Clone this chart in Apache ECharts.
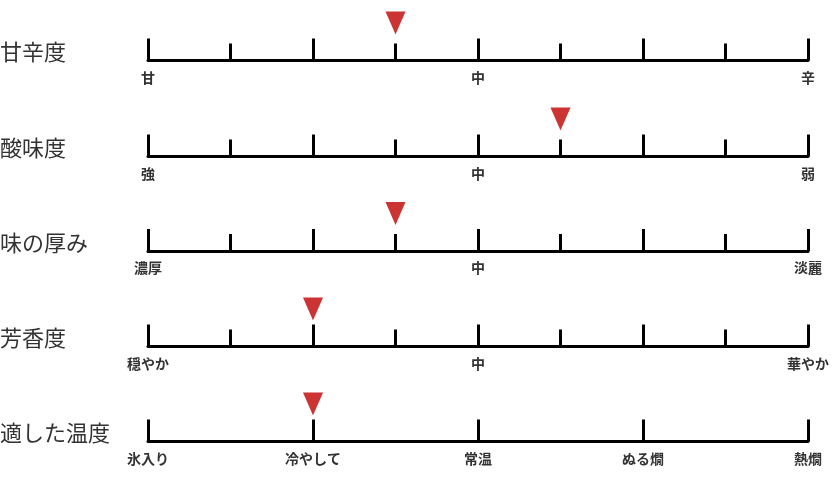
<!DOCTYPE html>
<html>
<head>
<meta charset="utf-8">
<script src="https://cdn.jsdelivr.net/npm/echarts@6/dist/echarts.min.js"></script>
<style>
html,body{margin:0;padding:0;background:#fff;}
#chart{width:832px;height:495px;}
</style>
</head>
<body>
<div id="chart"></div>
<script>
// ---- data ----
const rowTitles = ['甘辛度', '酸味度', '味の厚み', '芳香度', '適した温度'];
const scaleLabels = [
  ['甘', '中', '辛'],
  ['強', '中', '弱'],
  ['濃厚', '中', '淡麗'],
  ['穏やか', '中', '華やか'],
  ['氷入り', '冷やして', '常温', 'ぬる燗', '熱燗']
];
const scaleMax = [8, 8, 8, 8, 4];
const values = [3, 5, 3, 2, 1];

// ---- layout ----
const lineY = [60.5, 156.5, 251, 346.5, 441.5];
const axisLeft = 148, axisWidth = 660, gridH = 60;
const FONT = '"Noto Sans CJK JP", "Noto Sans", sans-serif';

const grids = [], xAxes = [], yAxes = [], series = [], graphics = [];
rowTitles.forEach((t, i) => {
  grids.push({ left: axisLeft, width: axisWidth, top: lineY[i] - gridH, height: gridH, containLabel: false });
  const max = scaleMax[i];
  const labels = scaleLabels[i];
  const step = max / (labels.length - 1);
  const isTemp = max === 4;
  xAxes.push({
    type: 'value', gridIndex: i, min: 0, max: max,
    interval: isTemp ? 1 : 2,
    axisLine: { show: true, onZero: false, lineStyle: { color: '#000', width: 3 } },
    axisTick: { show: true, inside: true, length: 22, lineStyle: { color: '#000', width: 3 } },
    minorTick: { show: !isTemp, splitNumber: 2, length: 17, lineStyle: { color: '#000', width: 3 } },
    splitLine: { show: false },
    minorSplitLine: { show: false },
    axisLabel: {
      show: true, margin: 10, showMinLabel: true, showMaxLabel: true, hideOverlap: false,
      color: '#333', fontSize: 14, fontWeight: 'bold', fontFamily: FONT,
      formatter: v => {
        const k = v / step;
        return Math.abs(k - Math.round(k)) < 1e-6 ? labels[Math.round(k)] : '';
      }
    }
  });
  yAxes.push({ type: 'value', gridIndex: i, min: 0, max: 1, show: false });
  series.push({
    type: 'scatter', xAxisIndex: i, yAxisIndex: i,
    symbol: 'path://M0,0L20,0L10,23Z', symbolSize: [20, 23], symbolOffset: [0, -37.5],
    itemStyle: { color: '#cc3333', opacity: 1 },
    data: [[values[i], 0]],
    silent: true
  });
  graphics.push({
    type: 'text', x: 0, y: lineY[i] - 8.5,
    style: { text: t, fill: '#333', font: '22px ' + FONT, verticalAlign: 'middle', align: 'left' }
  });
});

const chart = echarts.init(document.getElementById('chart'), null, { renderer: 'canvas' });
chart.setOption({
  animation: false,
  backgroundColor: '#fff',
  grid: grids,
  xAxis: xAxes,
  yAxis: yAxes,
  series: series,
  graphic: graphics
});
</script>
</body>
</html>
